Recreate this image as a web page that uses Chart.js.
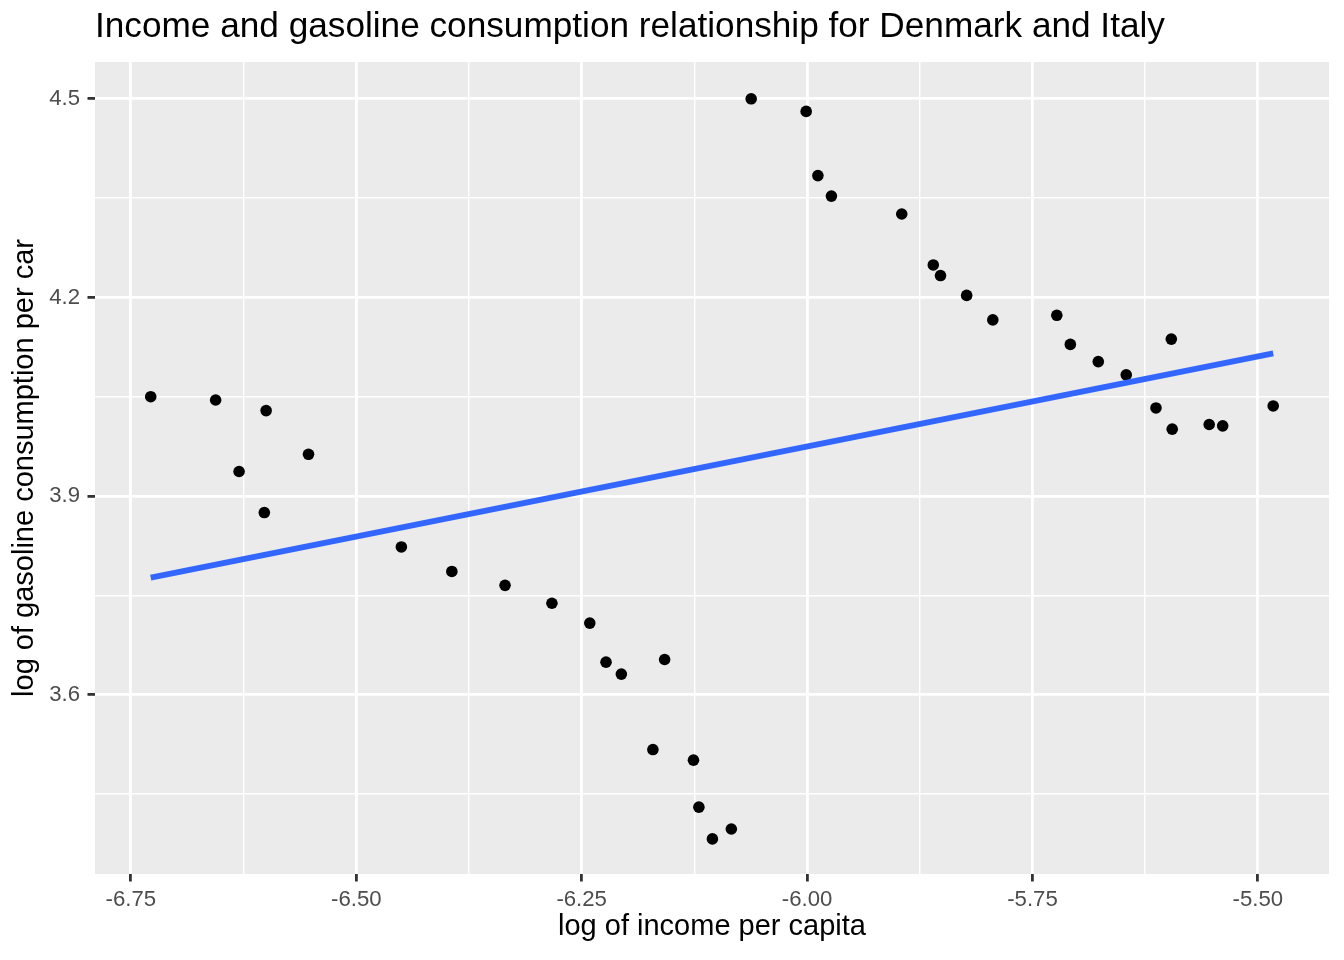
<!DOCTYPE html>
<html>
<head>
<meta charset="utf-8">
<script src="https://cdn.jsdelivr.net/npm/chart.js@4.4.1/dist/chart.umd.min.js"></script>
<style>
  html, body { margin: 0; padding: 0; background: #ffffff; }
  #wrap { width: 1344px; height: 960px; }
</style>
</head>
<body>
<div id="wrap"><canvas id="c" width="1344" height="960"></canvas></div>
<script>
// ---- data ----
const incomeX = [
  -6.728, -6.656, -6.600, -6.553, -6.630, -6.602, -6.450, -6.394, -6.335, -6.283,
  -6.241, -6.223, -6.206, -6.158, -6.171, -6.126, -6.120, -6.105, -6.084,
  -6.062, -6.001, -5.988, -5.973, -5.895, -5.860, -5.852, -5.823, -5.794, -5.723,
  -5.708, -5.677, -5.646, -5.596, -5.613, -5.595, -5.554, -5.539, -5.483
];
const gasolineY = [
  4.050, 4.045, 4.029, 3.963, 3.937, 3.875, 3.823, 3.786, 3.765, 3.738,
  3.708, 3.649, 3.631, 3.653, 3.517, 3.501, 3.430, 3.382, 3.397,
  4.500, 4.481, 4.384, 4.353, 4.326, 4.249, 4.233, 4.203, 4.166, 4.173,
  4.129, 4.103, 4.083, 4.137, 4.033, 4.001, 4.008, 4.006, 4.036
];
const xTickValues = [-6.75, -6.625, -6.5, -6.375, -6.25, -6.125, -6.0, -5.875, -5.75, -5.625, -5.5];
const xTickLabels = ["-6.75", "", "-6.50", "", "-6.25", "", "-6.00", "", "-5.75", "", "-5.50"];
const yTickValues = [3.45, 3.6, 3.75, 3.9, 4.05, 4.2, 4.35, 4.5];
const yTickLabels = ["", "3.6", "", "3.9", "", "4.2", "", "4.5"];

const titleText = "Income and gasoline consumption relationship for Denmark and Italy";
const xTitle = "log of income per capita";
const yTitle = "log of gasoline consumption per car";

// ---- derived: least squares fit (like geom_smooth(method = "lm")) ----
const n = incomeX.length;
const mx = incomeX.reduce((a, b) => a + b, 0) / n;
const my = gasolineY.reduce((a, b) => a + b, 0) / n;
let sxy = 0, sxx = 0;
for (let i = 0; i < n; i++) { sxy += (incomeX[i] - mx) * (gasolineY[i] - my); sxx += (incomeX[i] - mx) ** 2; }
const slope = sxy / sxx, intercept = my - slope * mx;
const xMin = Math.min(...incomeX), xMax = Math.max(...incomeX);
const fitPoints = [xMin, xMax].map(x => ({ x: x, y: intercept + slope * x }));

const points = incomeX.map((x, i) => ({ x: x, y: gasolineY[i] }));

const panelBg = {
  id: 'panelBg',
  beforeDraw(chart) {
    const { ctx, chartArea: a } = chart;
    ctx.save();
    ctx.fillStyle = '#ffffff';
    ctx.fillRect(0, 0, chart.width, chart.height);
    ctx.fillStyle = '#EBEBEB';
    ctx.fillRect(a.left, a.top, a.right - a.left, a.bottom - a.top);
    ctx.restore();
  }
};

const FONT = "'Liberation Sans', Arial, Helvetica, sans-serif";

function gridFor(majors) {
  return {
    color: '#ffffff',
    lineWidth: (c) => (c.tick && majors(c.tick.value)) ? 2.8 : 1.4,
    drawOnChartArea: true,
    drawTicks: true,
    tickLength: 7.5,
    tickWidth: 2.8,
    tickColor: (c) => (c.tick && majors(c.tick.value)) ? '#333333' : 'rgba(0,0,0,0)'
  };
}
const isXMajor = (v) => xTickLabels[xTickValues.findIndex(t => Math.abs(t - v) < 1e-9)] !== "";
const isYMajor = (v) => yTickLabels[yTickValues.findIndex(t => Math.abs(t - v) < 1e-9)] !== "";

new Chart(document.getElementById('c'), {
  type: 'scatter',
  data: {
    datasets: [
      {
        type: 'scatter',
        data: points,
        backgroundColor: '#000000',
        borderWidth: 0,
        pointRadius: 5.8,
        pointHoverRadius: 5.8,
        order: 2
      },
      {
        type: 'line',
        data: fitPoints,
        borderColor: '#3366FF',
        borderWidth: 5.7,
        pointRadius: 0,
        fill: false,
        tension: 0,
        borderCapStyle: 'butt',
        order: 1
      }
    ]
  },
  options: {
    responsive: false,
    animation: false,
    devicePixelRatio: 1,
    layout: { padding: { left: 0, right: 15, top: 0, bottom: 0 } },
    plugins: {
      legend: { display: false },
      tooltip: { enabled: false },
      title: {
        display: true,
        text: titleText,
        align: 'start',
        fullSize: false,
        color: '#000000',
        font: { family: FONT, size: 35.2, weight: 'normal', lineHeight: 1.2 },
        padding: { top: 6, bottom: 13.76 }
      }
    },
    scales: {
      x: {
        type: 'linear',
        position: 'bottom',
        min: -6.7898,
        max: -5.4211,
        afterBuildTicks: (axis) => { axis.ticks = xTickValues.map(v => ({ value: v })); },
        afterFit: (axis) => { axis.height = 86; },
        ticks: {
          autoSkip: false,
          maxRotation: 0,
          minRotation: 0,
          padding: 5.5,
          color: '#4D4D4D',
          font: { family: FONT, size: 22.2 },
          callback: (v) => { const i = xTickValues.findIndex(t => Math.abs(t - v) < 1e-9); return i >= 0 ? xTickLabels[i] : ''; }
        },
        grid: gridFor(isXMajor),
        border: { display: false },
        title: {
          display: true,
          text: xTitle,
          color: '#000000',
          font: { family: FONT, size: 29, lineHeight: 1.2 },
          padding: { top: 0, bottom: 15.35 }
        }
      },
      y: {
        type: 'linear',
        position: 'left',
        min: 3.329,
        max: 4.5556,
        afterBuildTicks: (axis) => { axis.ticks = yTickValues.map(v => ({ value: v })); },
        afterFit: (axis) => { axis.width = 95; },
        ticks: {
          autoSkip: false,
          padding: 7.5,
          color: '#4D4D4D',
          font: { family: FONT, size: 22.2 },
          callback: (v) => { const i = yTickValues.findIndex(t => Math.abs(t - v) < 1e-9); return i >= 0 ? yTickLabels[i] : ''; }
        },
        grid: gridFor(isYMajor),
        border: { display: false },
        title: {
          display: true,
          text: yTitle,
          color: '#000000',
          font: { family: FONT, size: 29, lineHeight: 1.2 },
          padding: { top: 7.55, bottom: 0 }
        }
      }
    }
  },
  plugins: [panelBg]
});
</script>
</body>
</html>
